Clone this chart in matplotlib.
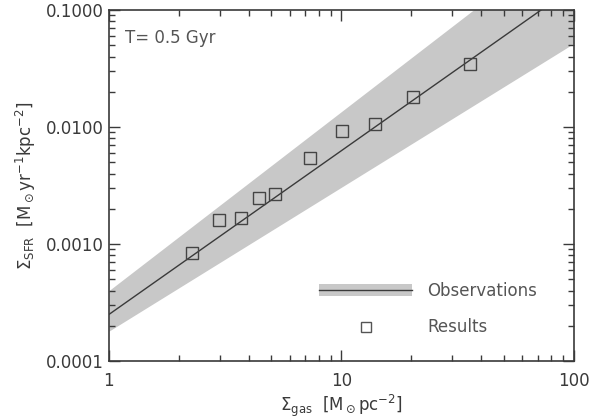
import matplotlib
matplotlib.use('Agg')
import matplotlib.pyplot as plt
from matplotlib.patches import Patch
from matplotlib.lines import Line2D
from matplotlib.legend_handler import HandlerTuple
from matplotlib.ticker import LogLocator, FixedFormatter, FixedLocator

# Kennicutt-Schmidt relation (line end points) and observed scatter band
obs_x = [1.0, 100.0]
obs_y = [2.5e-4, 0.158]
band_low = [1.8e-4, 0.052]
band_high = [4.0e-4, 0.46]

# simulated results
res_gas = [2.28, 2.97, 3.68, 4.40, 5.18, 7.32, 10.1, 13.9, 20.4, 35.7]
res_sfr = [8.4e-4, 1.60e-3, 1.66e-3, 2.47e-3, 2.66e-3, 5.40e-3, 9.2e-3, 1.06e-2, 1.80e-2, 3.45e-2]

xticks = [1, 10, 100]
xticklabels = ['1', '10', '100']
yticks = [1e-4, 1e-3, 1e-2, 1e-1]
yticklabels = ['0.0001', '0.0010', '0.0100', '0.1000']

ink = '#3a3a3a'
plt.rcParams['font.family'] = 'DejaVu Sans'
plt.rcParams['mathtext.fontset'] = 'dejavusans'

fig = plt.figure(figsize=(5.92, 4.19), dpi=100)
ax = fig.add_axes([0.184, 0.1384, 0.7856, 0.8376])

ax.fill_between(obs_x, band_low, band_high, color='#c8c8c8', lw=0)
ax.plot(obs_x, obs_y, color=ink, lw=1.0)
ax.plot(res_gas, res_sfr, ls='none', marker='s', ms=8, mfc='none', mec='#444444', mew=1.0)

ax.set_xscale('log')
ax.set_yscale('log')
ax.set_xlim(1, 100)
ax.set_ylim(1e-4, 0.1)

ax.xaxis.set_major_locator(FixedLocator(xticks))
ax.xaxis.set_major_formatter(FixedFormatter(xticklabels))
ax.yaxis.set_major_locator(FixedLocator(yticks))
ax.yaxis.set_major_formatter(FixedFormatter(yticklabels))
ax.xaxis.set_minor_locator(LogLocator(base=10, subs=range(2, 10)))
ax.yaxis.set_minor_locator(LogLocator(base=10, subs=range(2, 10)))
ax.xaxis.set_minor_formatter(plt.NullFormatter())
ax.yaxis.set_minor_formatter(plt.NullFormatter())

ax.tick_params(which='both', direction='in', top=True, right=True, colors=ink,
               labelcolor=ink, labelsize=12)
ax.tick_params(which='major', length=8, width=1)
ax.tick_params(which='minor', length=4, width=1)
ax.tick_params(axis='x', pad=8)
for s in ax.spines.values():
    s.set_color(ink)
    s.set_linewidth(1.2)

ax.set_xlabel(r'$\Sigma_{\rm gas}$  [M$_\odot$pc$^{-2}$]', fontsize=12, color=ink, labelpad=2)
ax.set_ylabel(r'$\Sigma_{\rm SFR}$  [M$_\odot$yr$^{-1}$kpc$^{-2}$]', fontsize=12, color=ink, labelpad=6)

ax.text(0.034, 0.92, 'T= 0.5 Gyr', transform=ax.transAxes, fontsize=12,
        color='#555555', va='center', ha='left')

h_obs = (Patch(facecolor='#c8c8c8', edgecolor='none'), Line2D([], [], color=ink, lw=1.0))
h_res = Line2D([], [], ls='none', marker='s', ms=7, mfc='none', mec='#555555', mew=1.0)
leg = ax.legend([h_obs, h_res], ['Observations', 'Results'],
                handler_map={tuple: HandlerTuple(ndivide=1, pad=0)},
                loc='upper left', bbox_to_anchor=(0.452, 0.225), frameon=False,
                borderpad=0, borderaxespad=0, handlelength=5.6, handletextpad=0.9,
                labelspacing=1.1, fontsize=12, numpoints=1)
for t in leg.get_texts():
    t.set_color('#555555')

fig.savefig('out.png', dpi=100)
